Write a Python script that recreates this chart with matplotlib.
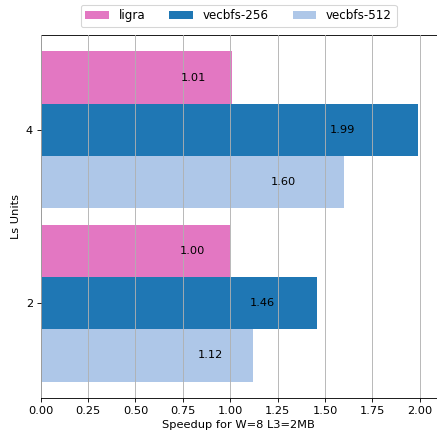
import matplotlib
matplotlib.use("Agg")
import matplotlib.pyplot as plt
import numpy as np

groups = ["2", "4"]
series = ["ligra", "vecbfs-256", "vecbfs-512"]
ligra = [1.00, 1.01]
vecbfs_256 = [1.46, 1.99]
vecbfs_512 = [1.12, 1.60]
colors = ["#e377c2", "#1f77b4", "#aec7e8"]

plt.rcParams["font.size"] = 10.5

DPI = 78
W, H = 437, 432
fig = plt.figure(figsize=(W / DPI, H / DPI), dpi=DPI)
ax = fig.add_axes([40.7 / W, (H - 398) / H, 396.0 / W, 363 / H])

y = np.arange(len(groups))
h = 0.3
offsets = [h, 0.0, -h]
for name, vals, off, c in zip(series, [ligra, vecbfs_256, vecbfs_512], offsets, colors):
    ax.barh(y + off, vals, height=h, color=c, label=name)
    for yi, v in zip(y, vals):
        ax.text(v * 0.8, yi + off, f"{v:.2f}", ha="center", va="center", fontsize=10.5)

ax.set_yticks(y)
ax.set_yticklabels(groups)
ax.set_ylabel("Ls Units", labelpad=5)
ax.set_xlabel("Speedup for W=8 L3=2MB", labelpad=4.5)
ax.set_xticks(np.arange(0, 2.01, 0.25))
ax.xaxis.grid(True, color="#b0b0b0")
ax.set_axisbelow(False)
ax.legend(loc="lower center", bbox_to_anchor=(0.5, 1.005), ncol=3, fontsize=11)

fig.savefig("out.png", dpi=DPI)
